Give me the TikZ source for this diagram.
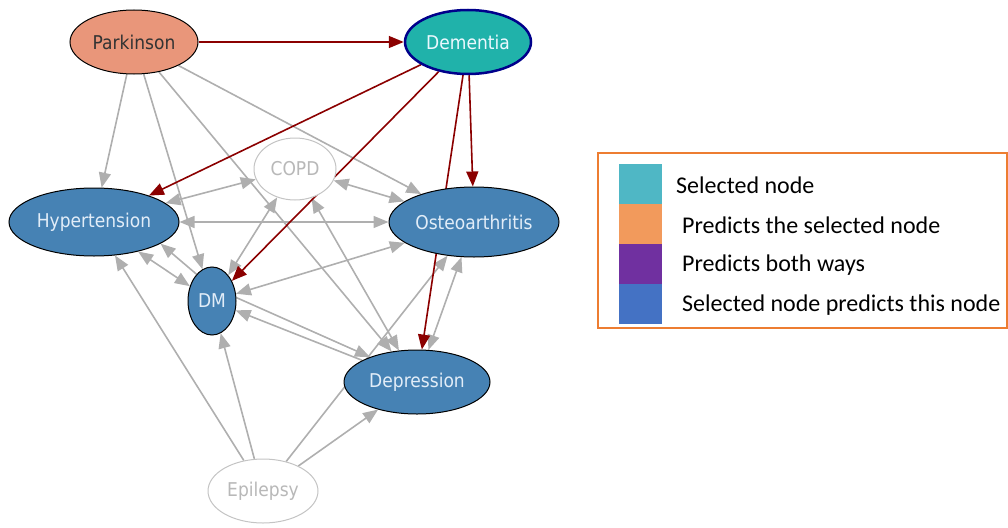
\documentclass[tikz,border=0pt]{standalone}
\usepackage{fontspec}
\newfontfamily\nodefont[FakeStretch=0.9]{DejaVu Sans}
\newfontfamily\legendfont{Carlito}
\usetikzlibrary{arrows.meta,shapes.geometric,backgrounds}
\definecolor{parkfill}{HTML}{E9967A}
\definecolor{demfill}{HTML}{20B2AA}
\definecolor{demline}{HTML}{00008B}
\definecolor{bluefill}{HTML}{4682B4}
\definecolor{bluetext}{HTML}{E2EDF8}
\definecolor{greyline}{HTML}{C4C4C4}
\definecolor{greytext}{HTML}{B8B8B8}
\definecolor{edgegrey}{HTML}{AFAFAF}
\definecolor{edgered}{HTML}{8B0000}
\definecolor{legline}{HTML}{ED7D31}
\definecolor{legsel}{HTML}{4FB7C5}
\definecolor{legpred}{HTML}{F29A5C}
\definecolor{legboth}{HTML}{7030A0}
\definecolor{legthis}{HTML}{4472C4}
\begin{document}
\begin{tikzpicture}[x=1pt,y=-1pt,
  >={Triangle[length=15pt,width=12pt]},
  dnode/.style={ellipse,draw,inner sep=0pt,line width=1pt,font={\nodefont\fontsize{19}{19}\selectfont}},
  bluenode/.style={dnode,fill=bluefill,text=bluetext},
  greynode/.style={dnode,draw=greyline,fill=white,text=greytext},
  gedge/.style={draw=edgegrey,line width=1.6pt},
  redge/.style={draw=edgered,line width=1.6pt,->},
  legtext/.style={anchor=west,inner sep=0pt,font={\legendfont\fontsize{24}{24}\selectfont}}]
\useasboundingbox (0,0) rectangle (1008,527);
\node[dnode,fill=parkfill,text=black!80,minimum width=128pt,minimum height=64pt] (park) at (134,42) {Parkinson};
\node[dnode,fill=demfill,draw=demline,line width=2.5pt,text=cyan!8,minimum width=126pt,minimum height=64pt] (dem) at (468,42) {Dementia};
\node[greynode,minimum width=82pt,minimum height=62pt] (copd) at (295,169) {COPD};
\node[bluenode,minimum width=170pt,minimum height=68pt] (hyp) at (94,222) {Hypertension};
\node[bluenode,minimum width=170pt,minimum height=70pt] (osteo) at (474,222) {Osteoarthritis};
\node[bluenode,minimum width=48pt,minimum height=68pt] (dm) at (212,301) {DM};
\node[bluenode,minimum width=146pt,minimum height=64pt] (dep) at (417,382) {Depression};
\node[greynode,minimum width=110pt,minimum height=64pt] (epi) at (263,491) {Epilepsy};
\begin{scope}[on background layer]
\draw[gedge,->] (park) -- (hyp);
\draw[gedge,->] (park) -- (dm);
\draw[gedge,->] (park) -- (dep);
\draw[gedge,->] (park) -- (osteo);
\draw[gedge,<->] (hyp) -- (copd);
\draw[gedge,<->] (copd) -- (osteo);
\draw[gedge,<->] (hyp) -- (osteo);
\draw[gedge,<->] (copd) -- (dm);
\draw[gedge,<->] (copd) -- (dep);
\draw[gedge,<->] (osteo) -- (dm);
\draw[gedge,<->] (osteo) -- (dep);
\draw[gedge,<->] (hyp) -- (dm);
\draw[gedge,->] (dm.120) -- (hyp.-18);
\draw[gedge,->] (dm.8) -- (dep.152);
\draw[gedge,->] (dep) -- (dm);
\draw[gedge,->] (epi) -- (hyp);
\draw[gedge,->] (epi) -- (dm);
\draw[gedge,->] (epi) -- (osteo);
\draw[gedge,->] (epi) -- (dep);
\draw[redge] (park) -- (dem);
\draw[redge] (dem) -- (hyp);
\draw[redge] (dem) -- (dm);
\draw[redge] (dem) -- (osteo);
\draw[redge] (dem) -- (dep);
\end{scope}
\draw[legline,line width=2pt] (598,153) rectangle (1007,328);
\fill[legsel] (619,164) rectangle (662,204);
\fill[legpred] (619,204) rectangle (662,244);
\fill[legboth] (619,244) rectangle (662,284);
\fill[legthis] (619,284) rectangle (662,324);
\node[legtext] (selected) at (676,185) {Selected node};
\node[legtext] (predicts) at (682,225) {Predicts the selected node};
\node[legtext] (bothways) at (682,265) {Predicts both ways};
\node[legtext] (predthis) at (682,305) {Selected node predicts this node};
\end{tikzpicture}
\end{document}
